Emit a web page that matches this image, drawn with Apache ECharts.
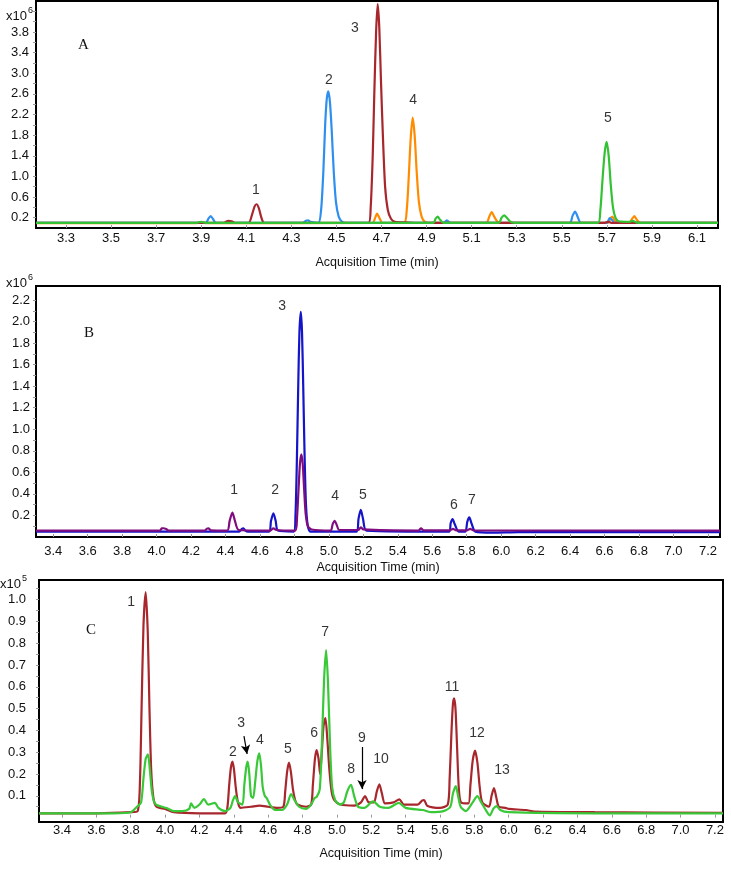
<!DOCTYPE html>
<html><head><meta charset="utf-8">
<script src="https://cdn.jsdelivr.net/npm/echarts@6/dist/echarts.min.js"></script>
<style>html,body{margin:0;padding:0;background:#fff}#c{width:731px;height:872px}</style>
</head><body><div id="c"></div>
<script>
// ---------- Tick labels ----------
var xTicksA = [3.3, 3.5, 3.7, 3.9, 4.1, 4.3, 4.5, 4.7, 4.9, 5.1, 5.3, 5.5, 5.7, 5.9, 6.1];
var yTicksA = [0.2, 0.6, 1.0, 1.4, 1.8, 2.2, 2.6, 3.0, 3.4, 3.8];
var xTicksB = [3.4, 3.6, 3.8, 4.0, 4.2, 4.4, 4.6, 4.8, 5.0, 5.2, 5.4, 5.6, 5.8, 6.0, 6.2, 6.4, 6.6, 6.8, 7.0, 7.2];
var yTicksB = [0.2, 0.4, 0.6, 0.8, 1.0, 1.2, 1.4, 1.6, 1.8, 2.0, 2.2];
var xTicksC = [3.4, 3.6, 3.8, 4.0, 4.2, 4.4, 4.6, 4.8, 5.0, 5.2, 5.4, 5.6, 5.8, 6.0, 6.2, 6.4, 6.6, 6.8, 7.0, 7.2];
var yTicksC = [0.1, 0.2, 0.3, 0.4, 0.5, 0.6, 0.7, 0.8, 0.9, 1.0];
var yMinorA = [0.2,0.4,0.6,0.8,1.0,1.2,1.4,1.6,1.8,2.0,2.2,2.4,2.6,2.8,3.0,3.2,3.4,3.6,3.8,4.0,4.2];
var yMinorB = [0.1,0.2,0.3,0.4,0.5,0.6,0.7,0.8,0.9,1.0,1.1,1.2,1.3,1.4,1.5,1.6,1.7,1.8,1.9,2.0,2.1,2.2];
var yMinorC = [0.05,0.1,0.15,0.2,0.25,0.3,0.35,0.4,0.45,0.5,0.55,0.6,0.65,0.7,0.75,0.8,0.85,0.9,0.95,1.0,1.05];

// ---------- Panel A (x10^6) ----------
var aOrange = [[3.167,0.095],[3.88,0.095],[3.9,0.11],[3.92,0.095],[4.66,0.1],[4.672,0.2],[4.68,0.28],[4.69,0.2],[4.705,0.1],[4.8,0.1],[4.812,0.35],[4.821,1.0],[4.829,1.7],[4.838,2.14],[4.847,1.8],[4.856,1.1],[4.866,0.5],[4.878,0.22],[4.892,0.12],[4.91,0.1],[5.165,0.1],[5.178,0.22],[5.189,0.31],[5.2,0.22],[5.215,0.12],[5.23,0.1],[5.705,0.1],[5.715,0.18],[5.724,0.22],[5.735,0.15],[5.75,0.1],[5.8,0.1],[5.812,0.18],[5.822,0.23],[5.833,0.16],[5.848,0.1],[6.193,0.1]];
var aBlue = [[3.167,0.1],[3.92,0.1],[3.932,0.18],[3.942,0.23],[3.953,0.17],[3.965,0.1],[4.35,0.1],[4.365,0.14],[4.374,0.15],[4.385,0.12],[4.42,0.1],[4.432,0.35],[4.442,1.1],[4.45,2.0],[4.457,2.5],[4.464,2.65],[4.471,2.45],[4.479,1.9],[4.488,1.1],[4.498,0.5],[4.51,0.22],[4.525,0.12],[4.54,0.1],[4.975,0.1],[4.99,0.15],[5.005,0.1],[5.535,0.1],[5.548,0.24],[5.559,0.32],[5.57,0.22],[5.585,0.1],[5.7,0.1],[5.712,0.19],[5.722,0.16],[5.735,0.1],[6.193,0.1]];
var aRed = [[3.167,0.1],[4.0,0.1],[4.02,0.14],[4.035,0.13],[4.05,0.1],[4.11,0.1],[4.125,0.25],[4.137,0.42],[4.146,0.46],[4.156,0.38],[4.167,0.2],[4.18,0.1],[4.642,0.1],[4.652,0.4],[4.661,1.4],[4.668,2.6],[4.676,3.8],[4.683,4.34],[4.69,3.9],[4.698,2.8],[4.706,1.8],[4.716,0.8],[4.728,0.35],[4.742,0.18],[4.76,0.12],[4.8,0.11],[4.85,0.1],[5.69,0.1],[5.705,0.12],[5.72,0.1],[6.193,0.1]];
var aGreen = [[3.167,0.1],[3.88,0.1],[3.9,0.12],[3.92,0.1],[4.93,0.1],[4.94,0.18],[4.949,0.22],[4.96,0.16],[4.975,0.1],[5.22,0.1],[5.233,0.2],[5.244,0.245],[5.256,0.2],[5.27,0.13],[5.29,0.1],[5.66,0.1],[5.671,0.35],[5.68,0.9],[5.69,1.45],[5.699,1.67],[5.708,1.4],[5.717,0.85],[5.727,0.4],[5.738,0.2],[5.752,0.13],[5.8,0.12],[5.815,0.14],[5.83,0.11],[5.85,0.1],[6.193,0.1]];

// ---------- Panel B (x10^6) ----------
var bBlue = [[3.30,0.05],[4.48,0.05],[4.495,0.075],[4.504,0.081],[4.515,0.06],[4.53,0.05],[4.652,0.05],[4.664,0.15],[4.678,0.22],[4.691,0.15],[4.704,0.06],[4.796,0.05],[4.806,0.2],[4.814,0.7],[4.822,1.4],[4.829,1.9],[4.837,2.09],[4.844,1.9],[4.851,1.4],[4.859,0.75],[4.867,0.3],[4.878,0.1],[4.895,0.05],[5.16,0.05],[5.172,0.17],[5.185,0.251],[5.198,0.17],[5.218,0.06],[5.697,0.05],[5.707,0.13],[5.718,0.167],[5.73,0.12],[5.753,0.05],[5.792,0.05],[5.803,0.14],[5.815,0.183],[5.827,0.13],[5.85,0.05],[5.95,0.04],[6.1,0.045],[7.27,0.045]];
var bPurple = [[3.30,0.06],[4.02,0.06],[4.03,0.08],[4.04,0.081],[4.055,0.075],[4.07,0.06],[4.28,0.06],[4.292,0.078],[4.301,0.081],[4.315,0.062],[4.41,0.06],[4.424,0.15],[4.44,0.226],[4.453,0.16],[4.477,0.065],[4.66,0.06],[4.678,0.081],[4.695,0.065],[4.805,0.06],[4.815,0.18],[4.824,0.45],[4.832,0.68],[4.84,0.768],[4.848,0.68],[4.856,0.45],[4.865,0.22],[4.878,0.1],[4.9,0.07],[5.01,0.06],[5.022,0.12],[5.034,0.151],[5.046,0.11],[5.06,0.065],[5.17,0.065],[5.185,0.09],[5.2,0.07],[5.52,0.06],[5.535,0.081],[5.55,0.062],[5.7,0.062],[5.72,0.075],[5.74,0.062],[5.8,0.062],[5.82,0.075],[5.84,0.062],[7.27,0.06]];

// ---------- Panel C (x10^5) ----------
var cRed = [[3.266,0.02],[3.6,0.02],[3.8,0.025],[3.84,0.03],[3.853,0.15],[3.863,0.5],[3.874,0.88],[3.887,1.034],[3.899,0.85],[3.909,0.5],[3.919,0.22],[3.932,0.09],[3.95,0.05],[4.0,0.04],[4.05,0.025],[4.2,0.02],[4.35,0.02],[4.363,0.05],[4.373,0.15],[4.383,0.23],[4.392,0.257],[4.401,0.22],[4.411,0.14],[4.424,0.07],[4.44,0.045],[4.5,0.05],[4.55,0.055],[4.6,0.05],[4.65,0.045],[4.688,0.05],[4.699,0.12],[4.71,0.21],[4.721,0.252],[4.732,0.21],[4.744,0.13],[4.757,0.08],[4.77,0.06],[4.82,0.05],[4.85,0.06],[4.86,0.15],[4.872,0.27],[4.882,0.31],[4.893,0.27],[4.902,0.2],[4.912,0.3],[4.922,0.42],[4.933,0.456],[4.944,0.36],[4.956,0.22],[4.969,0.12],[4.985,0.08],[5.02,0.06],[5.1,0.055],[5.14,0.07],[5.164,0.099],[5.185,0.07],[5.215,0.07],[5.232,0.12],[5.247,0.153],[5.262,0.11],[5.28,0.065],[5.33,0.07],[5.363,0.084],[5.39,0.06],[5.47,0.06],[5.495,0.078],[5.507,0.081],[5.525,0.055],[5.6,0.045],[5.645,0.06],[5.656,0.18],[5.666,0.38],[5.675,0.52],[5.682,0.547],[5.69,0.5],[5.699,0.33],[5.709,0.14],[5.722,0.07],[5.765,0.065],[5.777,0.15],[5.79,0.26],[5.804,0.307],[5.818,0.25],[5.831,0.14],[5.846,0.07],[5.885,0.05],[5.9,0.1],[5.914,0.135],[5.927,0.095],[5.942,0.05],[5.98,0.045],[6.0,0.04],[6.1,0.035],[6.15,0.028],[6.5,0.025],[7.247,0.022]];
var cGreen = [[3.266,0.02],[3.7,0.02],[3.8,0.025],[3.835,0.049],[3.86,0.07],[3.874,0.18],[3.887,0.27],[3.9,0.29],[3.911,0.22],[3.923,0.12],[3.935,0.075],[3.951,0.058],[4.009,0.044],[4.05,0.03],[4.1,0.03],[4.14,0.04],[4.151,0.065],[4.17,0.045],[4.2,0.06],[4.226,0.085],[4.25,0.06],[4.29,0.068],[4.31,0.045],[4.35,0.03],[4.38,0.045],[4.395,0.08],[4.407,0.099],[4.425,0.07],[4.45,0.06],[4.461,0.15],[4.472,0.23],[4.481,0.257],[4.49,0.2],[4.5,0.1],[4.512,0.09],[4.525,0.17],[4.537,0.26],[4.548,0.295],[4.558,0.24],[4.568,0.14],[4.58,0.1],[4.591,0.09],[4.61,0.06],[4.64,0.035],[4.68,0.035],[4.71,0.06],[4.733,0.108],[4.75,0.085],[4.78,0.05],[4.82,0.04],[4.85,0.06],[4.87,0.09],[4.882,0.095],[4.9,0.13],[4.913,0.35],[4.925,0.63],[4.937,0.769],[4.948,0.62],[4.96,0.33],[4.972,0.14],[4.99,0.08],[5.018,0.06],[5.04,0.07],[5.06,0.12],[5.082,0.15],[5.1,0.1],[5.123,0.05],[5.16,0.045],[5.21,0.075],[5.25,0.05],[5.3,0.045],[5.36,0.068],[5.4,0.045],[5.5,0.035],[5.55,0.025],[5.62,0.03],[5.66,0.05],[5.675,0.11],[5.692,0.145],[5.705,0.1],[5.72,0.05],[5.75,0.03],[5.79,0.07],[5.817,0.099],[5.84,0.07],[5.87,0.03],[5.89,0.01],[5.91,0.04],[5.93,0.053],[5.95,0.035],[6.0,0.025],[6.5,0.02],[7.247,0.02]];

// ---------- Peak labels [x, y, text] ----------
var peaksA = [[4.143,0.734,'1'],[4.467,2.857,'2'],[4.582,3.88,'3'],[4.840,2.471,'4'],[5.705,2.124,'5']];
var peaksB = [[4.450,0.436,'1'],[4.688,0.436,'2'],[4.728,2.145,'3'],[5.036,0.381,'4'],[5.198,0.390,'5'],[5.726,0.297,'6'],[5.830,0.344,'7']];
var peaksC = [[3.802,0.989,'1'],[4.395,0.301,'2'],[4.442,0.434,'3'],[4.552,0.356,'4'],[4.715,0.315,'5'],[4.867,0.388,'6'],[4.931,0.851,'7'],[5.082,0.223,'8'],[5.146,0.365,'9'],[5.257,0.269,'10'],[5.670,0.599,'11'],[5.815,0.388,'12'],[5.961,0.218,'13']];
var arrowsC = [[[4.459,0.374],[4.477,0.292]],[[5.146,0.324],[5.146,0.131]]];

var FONT = 'Liberation Sans, Arial, sans-serif';
function fmt1(v){ return (Math.round(v*10)/10).toFixed(1); }

function xAxisDef(idx, min, max, ticks, margin, gap){
  return {
    type:'value', gridIndex: idx, min:min, max:max,
    axisLine:{show:false}, splitLine:{show:false},
    axisTick:{show:true, inside:true, length:3, lineStyle:{color:'#999'}, customValues: ticks},
    axisLabel:{customValues: ticks, formatter: fmt1, color:'#111', fontSize:13, fontFamily:FONT, margin:margin},
    name:'Acquisition Time (min)', nameLocation:'middle', nameGap:gap,
    nameTextStyle:{color:'#111', fontSize:12.5, fontFamily:FONT, verticalAlign:'top'}
  };
}
function yAxisDef(idx, min, max, ticks, minor, margin){
  return {
    type:'value', gridIndex: idx, min:min, max:max,
    axisLine:{show:false}, splitLine:{show:false},
    axisTick:{show:true, length:3, lineStyle:{color:'#999'}, customValues: minor},
    axisLabel:{customValues: ticks, formatter: fmt1, color:'#111', fontSize:13, fontFamily:FONT, margin:margin}
  };
}
function line(idx, data, color, z){
  return {type:'line', xAxisIndex:idx, yAxisIndex:idx, data:data, showSymbol:false, symbol:'none',
    smooth:0.25, lineStyle:{color:color, width:2.2}, z:z, silent:true, animation:false};
}
function labels(idx, data, extra){
  var s = {type:'scatter', xAxisIndex:idx, yAxisIndex:idx, data:data, symbolSize:0, silent:true, animation:false,
    label:{show:true, position:'inside', formatter:function(p){return p.data[2];}, color:'#000', fontSize:14, fontFamily:FONT}, z:10};
  if (extra) s.markLine = extra;
  return s;
}

var chart = echarts.init(document.getElementById('c'), null, {renderer:'canvas'});
chart.setOption({
  animation:false,
  backgroundColor:'#fff',
  grid:[
    {left:36, top:1, width:682, height:227, show:true, borderColor:'#000', borderWidth:2, backgroundColor:'transparent'},
    {left:36, top:286, width:684, height:251, show:true, borderColor:'#000', borderWidth:2, backgroundColor:'transparent'},
    {left:39, top:580, width:684, height:242, show:true, borderColor:'#000', borderWidth:2, backgroundColor:'transparent'}
  ],
  xAxis:[
    xAxisDef(0, 3.167, 6.193, xTicksA, 4, 28),
    xAxisDef(1, 3.30, 7.27, xTicksB, 8, 24),
    xAxisDef(2, 3.266, 7.247, xTicksC, 2, 25)
  ],
  yAxis:[
    yAxisDef(0, 0, 4.4, yTicksA, yMinorA, 7),
    yAxisDef(1, 0, 2.33, yTicksB, yMinorB, 6),
    yAxisDef(2, -0.02, 1.09, yTicksC, yMinorC, 13)
  ],
  series:[
    line(0, aOrange, '#FF8C00', 2),
    line(0, aBlue, '#2F8FEF', 3),
    line(0, aRed, '#A8272C', 4),
    line(0, aGreen, '#33C233', 5),
    labels(0, peaksA),
    line(1, bBlue, '#1414C8', 2),
    line(1, bPurple, '#800D80', 3),
    labels(1, peaksB),
    line(2, cRed, '#A8272C', 2),
    line(2, cGreen, '#38C838', 3),
    labels(2, peaksC, {
      silent:true, symbol:['none','arrow'], symbolSize:[7,9],
      lineStyle:{color:'#000', width:1.2, type:'solid'}, label:{show:false},
      data: arrowsC.map(function(a){ return [{coord:a[0]},{coord:a[1]}]; })
    })
  ],
  graphic:[
    {type:'text', left:84-6, top:47-9, style:{text:'A', font:'15px "Liberation Serif", "Times New Roman", serif', fill:'#111'}},
    {type:'text', left:90-6, top:335-9, style:{text:'B', font:'15px "Liberation Serif", "Times New Roman", serif', fill:'#111'}},
    {type:'text', left:92-6, top:632-9, style:{text:'C', font:'15px "Liberation Serif", "Times New Roman", serif', fill:'#111'}},
    {type:'text', left:6, top:6, style:{text:'{a|x10}{b|6}', rich:{a:{fontSize:13, fontFamily:FONT, fill:'#111', verticalAlign:'bottom'}, b:{fontSize:9, fontFamily:FONT, fill:'#111', verticalAlign:'top', padding:[0,0,8,1]}}}},
    {type:'text', left:6, top:273, style:{text:'{a|x10}{b|6}', rich:{a:{fontSize:13, fontFamily:FONT, fill:'#111', verticalAlign:'bottom'}, b:{fontSize:9, fontFamily:FONT, fill:'#111', verticalAlign:'top', padding:[0,0,8,1]}}}},
    {type:'text', left:0, top:574, style:{text:'{a|x10}{b|5}', rich:{a:{fontSize:13, fontFamily:FONT, fill:'#111', verticalAlign:'bottom'}, b:{fontSize:9, fontFamily:FONT, fill:'#111', verticalAlign:'top', padding:[0,0,8,1]}}}}
  ]
});
</script></body></html>
